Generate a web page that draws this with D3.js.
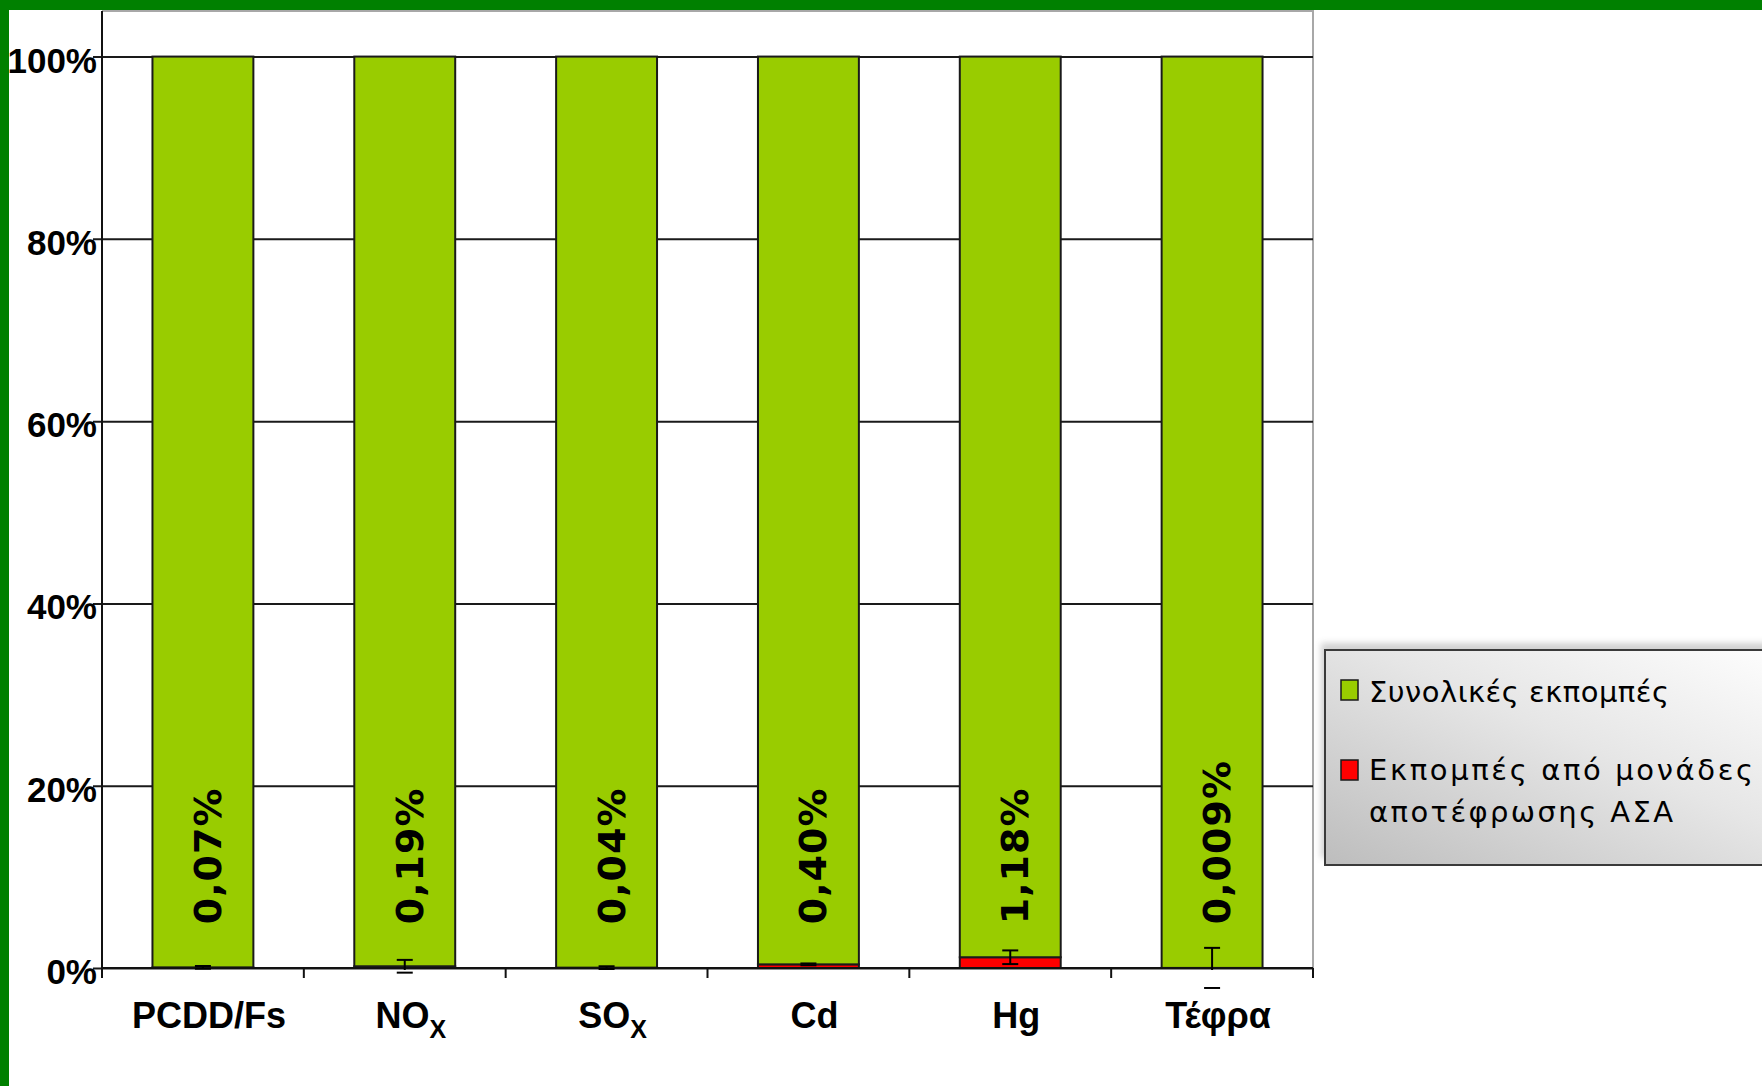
<!DOCTYPE html>
<html>
<head>
<meta charset="utf-8">
<script src="https://cdn.jsdelivr.net/npm/d3@7"></script>
<style>
  html, body { margin: 0; padding: 0; background: #ffffff; }
  svg { display: block; }
</style>
</head>
<body>
<svg id="chart" width="1762" height="1086"></svg>
<script>
// Pollutants compared
const categories = ["PCDD/Fs", "NOx", "SOx", "Cd", "Hg", "Τέφρα"];
// Share (%) of each pollutant's emissions coming from MSW incineration plants
const incinerationShare = [0.07, 0.19, 0.04, 0.40, 1.18, 0.009];
// Error range (± percentage points) on the incineration share
const shareError = [0.15, 0.7, 0.15, 0.1, 0.75, 2.2];
// Value labels printed on the bars
const valueLabels = ["0,07%", "0,19%", "0,04%", "0,40%", "1,18%", "0,009%"];
// Y axis tick values (%)
const yTicks = [0, 20, 40, 60, 80, 100];
// Legend entries
const seriesNames = ["Συνολικές εκπομπές", "Εκπομπές από μονάδες αποτέφρωσης ΑΣΑ"];

const svg = d3.select("#chart");
const W = 1762, H = 1086;
const plot = { left: 102, right: 1313, top: 11, bottom: 968 };

const GREEN = "#99cc00", RED = "#ff0000", FRAME = "#008000";

const x = d3.scaleBand()
  .domain(categories)
  .range([plot.left, plot.right])
  .paddingInner(0.5)
  .paddingOuter(0.25);

const y = d3.scaleLinear()
  .domain([0, 105])
  .range([plot.bottom, plot.top]);

// stacked 100% data: incineration part at the bottom, the remainder on top
const rows = categories.map((c, i) => ({
  cat: c,
  red: incinerationShare[i],
  green: 100 - incinerationShare[i],
  err: shareError[i],
  label: valueLabels[i]
}));
const stack = d3.stack().keys(["red", "green"])(rows);

// plot area frame (top and right)
svg.append("path")
  .attr("d", `M${plot.left},${plot.top}H${plot.right}V${plot.bottom}`)
  .attr("fill", "none")
  .attr("stroke", "#a8a8a8")
  .attr("stroke-width", 2);

// horizontal gridlines + outward ticks on the value axis
const yAxis = d3.axisLeft(y).tickValues(yTicks)
  .tickSize(-(plot.right - plot.left))
  .tickSizeOuter(0)
  .tickFormat("");
const gy = svg.append("g")
  .attr("transform", `translate(${plot.left},0)`)
  .call(yAxis);
gy.select(".domain").remove();
gy.selectAll(".tick line")
  .attr("x1", -9)
  .attr("stroke", "#1a1a1a")
  .attr("stroke-width", 2);

// y tick labels
svg.append("g").selectAll("text")
  .data(yTicks)
  .join("text")
  .attr("x", 97)
  .attr("y", d => y(d) + 16)
  .attr("text-anchor", "end")
  .attr("font-family", "'Liberation Sans', Arial, sans-serif")
  .attr("font-weight", "bold")
  .attr("font-size", 35)
  .attr("fill", "#000")
  .text(d => d + "%");

// bars
const colors = { red: RED, green: GREEN };
svg.append("g").selectAll("g")
  .data(stack)
  .join("g")
  .attr("fill", d => colors[d.key])
  .selectAll("rect")
  .data(d => d)
  .join("rect")
  .attr("x", d => x(d.data.cat))
  .attr("width", x.bandwidth())
  .attr("y", d => y(d[1]))
  .attr("height", d => y(d[0]) - y(d[1]))
  .attr("stroke", "#1a1a1a")
  .attr("stroke-width", 2);

// value axis line
svg.append("line")
  .attr("x1", plot.left).attr("x2", plot.left)
  .attr("y1", plot.top).attr("y2", plot.bottom)
  .attr("stroke", "#111").attr("stroke-width", 2);

// category axis
const xAxis = d3.axisBottom(x).tickSize(0).tickFormat("");
const gx = svg.append("g")
  .attr("transform", `translate(0,${plot.bottom})`)
  .call(xAxis);
gx.select(".domain")
  .attr("d", `M${plot.left},0H${plot.right}`)
  .attr("stroke", "#111").attr("stroke-width", 2);
gx.selectAll(".tick").remove();

// tick marks between categories
const step = x.step();
const boundaries = d3.range(categories.length + 1)
  .map(i => x(categories[0]) - step * x.paddingOuter() + i * step)
  .map(v => Math.min(Math.max(v, plot.left), plot.right));
gx.selectAll("line.sep")
  .data(boundaries)
  .join("line")
  .attr("class", "sep")
  .attr("x1", d => d).attr("x2", d => d)
  .attr("y1", 0).attr("y2", 10)
  .attr("stroke", "#111").attr("stroke-width", 2);

// category labels (subscript for NOx / SOx)
const catText = svg.append("g").selectAll("text")
  .data(categories)
  .join("text")
  .attr("x", d => x(d) + x.bandwidth() / 2 + 6)
  .attr("y", 1028)
  .attr("text-anchor", "middle")
  .attr("font-family", "'Liberation Sans', Arial, sans-serif")
  .attr("font-weight", "bold")
  .attr("font-size", 36)
  .attr("fill", "#000");
catText.each(function (d) {
  const t = d3.select(this);
  const m = d.match(/^(NO|SO)x$/);
  if (m) {
    t.append("tspan").text(m[1]);
    t.append("tspan").attr("font-size", 25).attr("dy", 10).text("X");
  } else {
    t.text(d);
  }
});

// error bars on the incineration share
const errG = svg.append("g")
  .attr("stroke", "#000")
  .attr("stroke-width", 2);
rows.forEach(r => {
  const cx = x(r.cat) + x.bandwidth() / 2;
  const yTop = y(r.red + r.err);
  const yBot = y(r.red - r.err);
  errG.append("line")
    .attr("x1", cx).attr("x2", cx)
    .attr("y1", yTop).attr("y2", Math.min(yBot, plot.bottom + 2));
  [yTop, yBot].forEach(yy => {
    errG.append("line")
      .attr("x1", cx - 8).attr("x2", cx + 8)
      .attr("y1", yy).attr("y2", yy);
  });
});

// vertical value labels on the bars
svg.append("g").selectAll("text")
  .data(rows)
  .join("text")
  .attr("transform", d => `translate(${x(d.cat) + x.bandwidth() / 2 + 5},${y(4.8)}) rotate(-90)`)
  .attr("text-anchor", "start")
  .attr("dominant-baseline", "central")
  .attr("font-family", "'DejaVu Sans', Verdana, sans-serif")
  .attr("font-weight", "bold")
  .attr("font-size", 38)
  .attr("letter-spacing", 1)
  .attr("fill", "#000")
  .text(d => d.label);

// legend
const defs = svg.append("defs");
const grad = defs.append("linearGradient")
  .attr("id", "legendFill")
  .attr("x1", "0").attr("y1", "1").attr("x2", "1").attr("y2", "0");
grad.append("stop").attr("offset", "0").attr("stop-color", "#bdbdbd");
grad.append("stop").attr("offset", "0.55").attr("stop-color", "#e6e6e6");
grad.append("stop").attr("offset", "1").attr("stop-color", "#ffffff");
defs.append("filter").attr("id", "soft")
  .attr("x", "-10%").attr("y", "-10%").attr("width", "120%").attr("height", "120%")
  .append("feGaussianBlur").attr("stdDeviation", 3);

const lg = svg.append("g");
lg.append("rect")
  .attr("x", 1321).attr("y", 643)
  .attr("width", 500).attr("height", 215)
  .attr("fill", "#9a9a9a").attr("opacity", 0.45)
  .attr("filter", "url(#soft)");
lg.append("rect")
  .attr("x", 1325).attr("y", 650)
  .attr("width", 480).attr("height", 215)
  .attr("fill", "url(#legendFill)")
  .attr("stroke", "#3a3a3a").attr("stroke-width", 2);

const legendFont = "'DejaVu Sans', Verdana, sans-serif";
const swatchY = [680, 760];
const swatchColor = [GREEN, RED];
seriesNames.forEach((name, i) => {
  lg.append("rect")
    .attr("x", 1341).attr("y", swatchY[i])
    .attr("width", 17).attr("height", 20)
    .attr("fill", swatchColor[i])
    .attr("stroke", "#1a1a1a").attr("stroke-width", 1.5);
});
const legendLines = [
  { text: seriesNames[0], y: 702, len: 300 },
  { text: "Εκπομπές από μονάδες", y: 780, len: 384 },
  { text: "αποτέφρωσης ΑΣΑ", y: 822, len: 304 }
];
lg.selectAll("text.lt")
  .data(legendLines)
  .join("text")
  .attr("class", "lt")
  .attr("x", 1369)
  .attr("y", d => d.y)
  .attr("font-family", legendFont)
  .attr("font-size", 29)
  .attr("fill", "#000")
  .attr("textLength", d => d.len)
  .attr("lengthAdjust", "spacing")
  .text(d => d.text);

// outer green frame (top and left edges)
svg.append("rect").attr("x", 0).attr("y", 0).attr("width", W).attr("height", 10).attr("fill", FRAME);
svg.append("rect").attr("x", 0).attr("y", 0).attr("width", 9).attr("height", H).attr("fill", FRAME);
</script>
</body>
</html>
